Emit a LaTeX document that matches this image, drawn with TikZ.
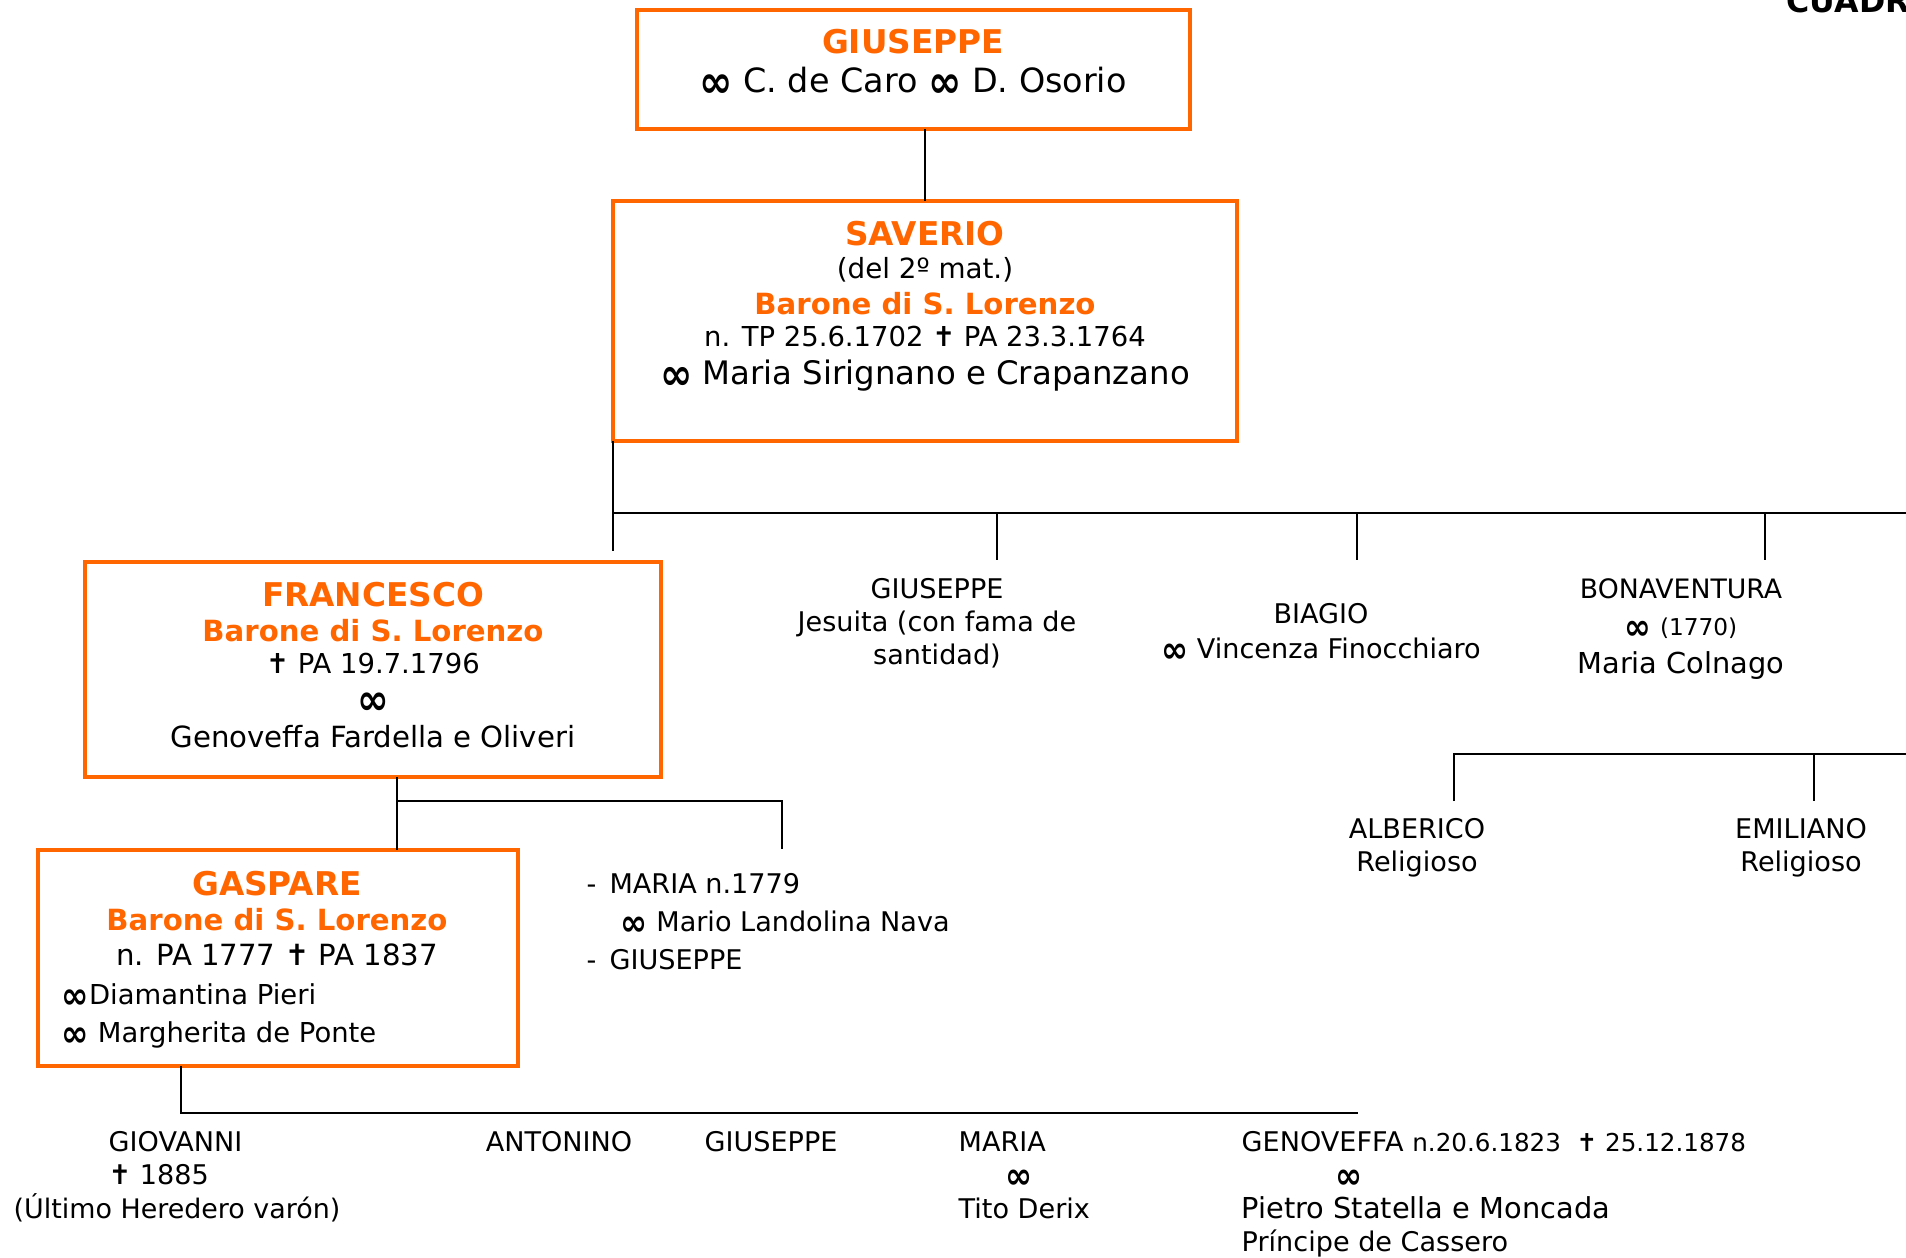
\documentclass[tikz,border=0pt]{standalone}
\usepackage{graphicx}
\usepackage{fontspec}
\setmainfont{DejaVu Sans}
\definecolor{orng}{RGB}{255,102,0}
\newcommand{\fs}[1]{\fontsize{#1}{#1}\selectfont}
\newcommand{\mrg}{\raisebox{-0.17em}{\scalebox{1.2}[1.35]{\bfseries ∞}}}
\newcommand{\crs}{{\bfseries ✝}}
\tikzset{
  box/.style={draw=orng, line width=1.2pt, inner sep=0pt, outer sep=0pt, anchor=north west},
  conn/.style={draw=black, line width=0.6pt},
  txt/.style={inner sep=0pt, anchor=base},
  txtl/.style={inner sep=0pt, anchor=base west},
  head/.style={txt, text=orng, font=\bfseries\fs{9.3pt}},
  title/.style={txt, text=orng, font=\bfseries\fs{8.3pt}},
}
\begin{document}
\begin{tikzpicture}[x=0.01cm, y=-0.01cm]
\clip (0,0) rectangle (1906,1257);
\fill[white] (0,0) rectangle (1906,1257);

% boxes
\node[box, minimum width=5.53cm, minimum height=1.19cm] (giuseppe) at (637,10) {};
\node[box, minimum width=6.24cm, minimum height=2.40cm] (saverio) at (613,201) {};
\node[box, minimum width=5.76cm, minimum height=2.15cm] (francesco) at (85,562) {};
\node[box, minimum width=4.80cm, minimum height=2.16cm] (gaspare) at (38,850) {};

% box texts
\node[head] (t1) at (913,53) {GIUSEPPE};
\node[txt, font=\fs{9.5pt}] (t2) at (913,92) {\mrg{} C. de Caro \mrg{} D. Osorio};

\node[head] (s1) at (925,245) {SAVERIO};
\node[txt, font=\fs{7.9pt}] (s2) at (925,278) {(del 2º mat.)};
\node[title] (s3) at (925,314) {Barone di S. Lorenzo};
\node[txt, font=\fs{7.8pt}] (s4) at (925,346) {n. TP 25.6.1702 \crs{} PA 23.3.1764};
\node[txt, font=\fs{9.2pt}] (s5) at (925,384) {\mrg{} Maria Sirignano e Crapanzano};

\node[head] (f1) at (373,606) {FRANCESCO};
\node[title] (f2) at (373,641) {Barone di S. Lorenzo};
\node[txt, font=\fs{7.8pt}] (f3) at (373,673) {\crs{} PA 19.7.1796};
\node[txt, font=\fs{9pt}] (f4) at (373,709) {\mrg};
\node[txt, font=\fs{8.3pt}] (f5) at (373,747) {Genoveffa Fardella e Oliveri};

\node[head] (g1) at (277,895) {GASPARE};
\node[title] (g2) at (277,930) {Barone di S. Lorenzo};
\node[txt, font=\fs{8.3pt}] (g3) at (277,965) {n. PA 1777 \crs{} PA 1837};
\node[txtl, font=\fs{7.8pt}] (g4) at (61,1004) {\mrg Diamantina Pieri};
\node[txtl, font=\fs{7.8pt}] (g5) at (61,1042) {\mrg{} Margherita de Ponte};

% siblings of Gaspare
\node[txtl, font=\fs{7.7pt}] (m1) at (586,893) {-\, MARIA n.1779};
\node[txtl, font=\fs{7.7pt}] (m2) at (620,931) {\mrg{} Mario Landolina Nava};
\node[txtl, font=\fs{7.7pt}] (m3) at (586,969) {-\, GIUSEPPE};

% siblings of Francesco
\node[txt, font=\fs{7.7pt}] (j1) at (937,598) {GIUSEPPE};
\node[txt, font=\fs{7.7pt}] (j2) at (937,631) {Jesuita (con fama de};
\node[txt, font=\fs{7.7pt}] (j3) at (937,664) {santidad)};

\node[txt, font=\fs{7.7pt}] (b1) at (1321,623) {BIAGIO};
\node[txt, font=\fs{7.7pt}] (b2) at (1321,658) {\mrg{} Vincenza Finocchiaro};

\node[txt, font=\fs{7.6pt}] (v1) at (1681,598) {BONAVENTURA};
\node[txt, font=\fs{7.6pt}] (v2) at (1681,635) {\mrg{} {\fs{6.6pt}(1770)}};
\node[txt, font=\fs{8.2pt}] (v3) at (1681,673) {Maria Colnago};

\node[txt, font=\fs{7.7pt}] (a1) at (1417,838) {ALBERICO};
\node[txt, font=\fs{7.7pt}] (a2) at (1417,871) {Religioso};
\node[txt, font=\fs{7.7pt}] (e1) at (1801,838) {EMILIANO};
\node[txt, font=\fs{7.7pt}] (e2) at (1801,871) {Religioso};

% children of Gaspare
\node[txtl, font=\fs{7.7pt}] (c1) at (108,1151) {GIOVANNI};
\node[txtl, font=\fs{7.7pt}] (c2) at (108,1184) {\crs{} 1885};
\node[txt, font=\fs{7.65pt}] (c3) at (177,1218) {(Último Heredero varón)};
\node[txt, font=\fs{7.7pt}] (an) at (559,1151) {ANTONINO};
\node[txt, font=\fs{7.7pt}] (gi) at (771,1151) {GIUSEPPE};
\node[txtl, font=\fs{7.7pt}] (ma1) at (958,1151) {MARIA};
\node[txt, font=\fs{7.7pt}] (ma2) at (1019,1184) {\mrg};
\node[txtl, font=\fs{7.7pt}] (ma3) at (958,1218) {Tito Derix};
\node[txtl, font=\fs{7.7pt}] (ge1) at (1241,1151) {GENOVEFFA {\fs{7pt}n.20.6.1823 \ \crs{} 25.12.1878}};
\node[txt, font=\fs{7.7pt}] (ge2) at (1349,1184) {\mrg};
\node[txtl, font=\fs{8.2pt}] (ge3) at (1241,1218) {Pietro Statella e Moncada};
\node[txtl, font=\fs{7.7pt}] (ge4) at (1241,1251) {Príncipe de Cassero};

% heading at the top right
\node[txtl, font=\bfseries\fs{9pt}] (cuadro) at (1786,12) {CUADRO};

% connectors
\draw[conn] (saverio.north) -- (saverio.north |- giuseppe.south);

\coordinate (sbar) at (613,513);
\coordinate (sbarR) at (1906,513);
\coordinate (sdrop) at (613,551);
\draw[conn] (saverio.south west) -- (sdrop);
\draw[conn] (sbar) -- (sbarR);
\coordinate (d1) at (997,513);  \coordinate (d1e) at (997,560);
\coordinate (d2) at (1357,513); \coordinate (d2e) at (1357,560);
\coordinate (d3) at (1765,513); \coordinate (d3e) at (1765,560);
\draw[conn] (d1) -- (d1e);
\draw[conn] (d2) -- (d2e);
\draw[conn] (d3) -- (d3e);

\coordinate (bbar) at (1454,754);
\coordinate (bbarR) at (1906,754);
\coordinate (bbarL) at (1454,801);
\coordinate (bbarM) at (1814,754);
\coordinate (bbarMe) at (1814,801);
\draw[conn] (bbarL) -- (bbar) -- (bbarR);
\draw[conn] (bbarM) -- (bbarMe);

\coordinate (ftop) at (397,777);
\coordinate (fbar) at (397,801);
\coordinate (fbarR) at (782,801);
\coordinate (fbarRe) at (782,849);
\draw[conn] (ftop) -- (ftop |- gaspare.north);
\draw[conn] (fbar) -- (fbarR) -- (fbarRe);

\coordinate (gtop) at (181,1066);
\coordinate (gbar) at (181,1113);
\coordinate (gbarR) at (1358,1113);
\draw[conn] (gtop) -- (gbar) -- (gbarR);
\end{tikzpicture}
\end{document}
